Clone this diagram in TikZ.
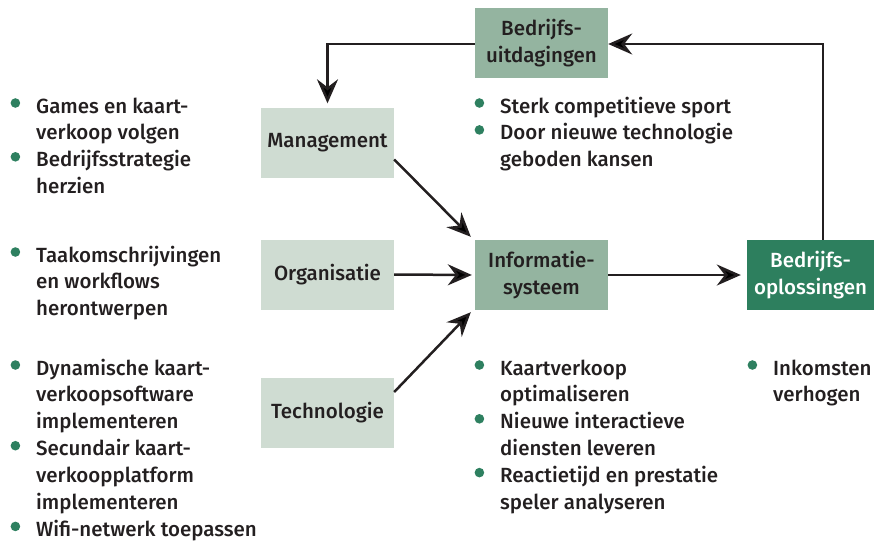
\documentclass[tikz,border=0pt]{standalone}
\usepackage{fontspec}
\setmainfont{Fira Sans}[UprightFont=* Medium]
\usepackage{tikz}
\usetikzlibrary{arrows.meta,positioning,calc}
\definecolor{ink}{RGB}{35,31,32}
\definecolor{boxlight}{RGB}{207,220,210}
\definecolor{boxmid}{RGB}{148,180,160}
\definecolor{boxdark}{RGB}{45,127,94}
\definecolor{dotgreen}{RGB}{46,128,96}
\tikzset{
  box/.style={fill=boxlight,minimum width=133pt,minimum height=70pt,inner sep=0pt,align=center,text=ink,font=\fontsize{20.5}{27}\selectfont},
  midbox/.style={box,fill=boxmid},
  darkbox/.style={box,fill=boxdark,text=white,minimum width=127pt},
  pointlist/.style={anchor=base west,inner sep=0pt,text=ink,font=\fontsize{20.5}{26.9}\selectfont},
  arr/.style={-{Stealth[length=24pt,width=21pt,inset=8pt]},draw=ink,line width=2.5pt}
}
\newcommand{\dotitem}{\llap{\tikz[baseline=-10pt]\fill[dotgreen] (0,0) circle (4.8pt);\hspace{16pt}}}
\newcommand{\pointlines}[1]{\begin{tabular}[t]{@{}l@{}}#1\end{tabular}}

\begin{document}
\begin{tikzpicture}[x=1pt,y=-1pt]
  \useasboundingbox (0,0) rectangle (874,542);
  % boxes
  \node[midbox] (uit) at (541.5,43) {Bedrijfs-\\uitdagingen};
  \node[box] (mgmt) at (327.5,142.5) {Management};
  \node[box] (org) at (327.5,274.5) {Organisatie};
  \node[box] (tech) at (327.5,413) {Technologie};
  \node[midbox] (info) at (541.5,275) {Informatie-\\systeem};
  \node[darkbox] (opl) at (810.5,275) {Bedrijfs-\\oplossingen};
  % bullet lists
  \node[pointlist] (mgmtpts) at (36,113) {\pointlines{\dotitem Games en kaart-\\verkoop volgen\\\dotitem Bedrijfsstrategie\\herzien}};
  \node[pointlist] (orgpts) at (36,262) {\pointlines{\dotitem Taakomschrijvingen\\en workflows\\herontwerpen}};
  \node[pointlist] (techpts) at (36,375) {\pointlines{\dotitem Dynamische kaart-\\verkoopsoftware\\implementeren\\\dotitem Secundair kaart-\\verkoopplatform\\implementeren\\\dotitem Wifi-netwerk toepassen}};
  \node[pointlist] (uitpts) at (500,113) {\pointlines{\dotitem Sterk competitieve sport\\\dotitem Door nieuwe technologie\\geboden kansen}};
  \node[pointlist] (infopts) at (500,375) {\pointlines{\dotitem Kaartverkoop\\optimaliseren\\\dotitem Nieuwe interactieve\\diensten leveren\\\dotitem Reactietijd en prestatie\\speler analyseren}};
  \node[pointlist] (oplpts) at (773,375) {\pointlines{\dotitem Inkomsten\\verhogen}};
  % connectors
  \draw[arr,shorten >=4pt] ([yshift=-1pt]uit.west) -| (mgmt.north);
  \draw[arr] ([shift={(12.5,0)}]opl.north) |- ([yshift=-1pt]uit.east);
  \draw[arr] ([shift={(0,17)}]mgmt.east) -- ([shift={(-4,-3)}]info.north west);
  \draw[arr,shorten >=3pt] (org.east) -- (info.west);
  \draw[arr] ([shift={(0,-21)}]tech.east) -- ([shift={(-4,2)}]info.south west);
  \draw[arr,shorten >=6pt] (info.east) -- (opl.west);
\end{tikzpicture}
\end{document}
